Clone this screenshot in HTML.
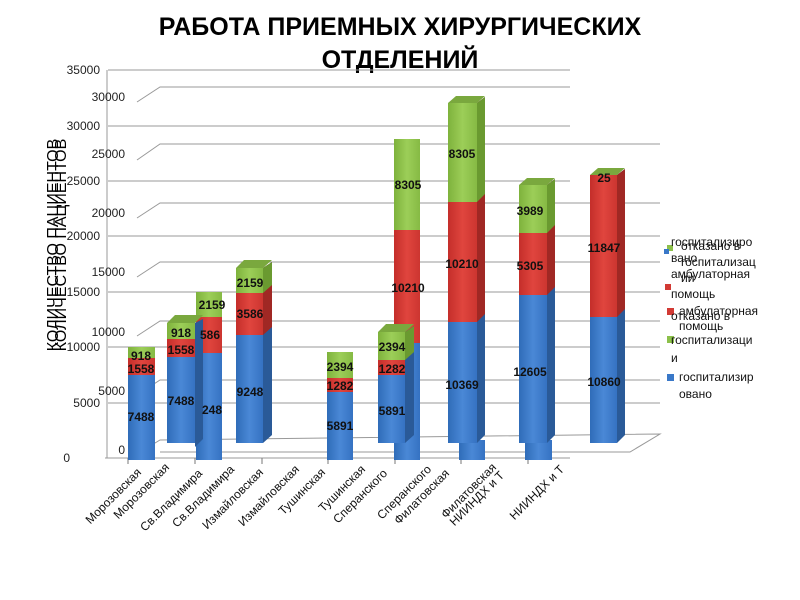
<!DOCTYPE html>
<html><head><meta charset="utf-8"><style>
body{margin:0;background:#fff;width:800px;height:600px;overflow:hidden}
svg{display:block}
text{font-family:"Liberation Sans","DejaVu Sans",sans-serif}
</style></head><body>
<svg width="800" height="600" viewBox="0 0 800 600">
<defs>
<linearGradient id="gb" x1="0" x2="1"><stop offset="0" stop-color="#2f6cb8"/><stop offset="0.5" stop-color="#4a88d6"/><stop offset="1" stop-color="#3572c2"/></linearGradient>
<linearGradient id="gr" x1="0" x2="1"><stop offset="0" stop-color="#c42e2a"/><stop offset="0.5" stop-color="#e0453e"/><stop offset="1" stop-color="#cc3530"/></linearGradient>
<linearGradient id="gg" x1="0" x2="1"><stop offset="0" stop-color="#7eb23c"/><stop offset="0.5" stop-color="#9cce58"/><stop offset="1" stop-color="#86ba44"/></linearGradient>
</defs>
<text x="400" y="35" text-anchor="middle" font-size="25" font-weight="bold">РАБОТА ПРИЕМНЫХ ХИРУРГИЧЕСКИХ</text>
<text x="400" y="68" text-anchor="middle" font-size="25" font-weight="bold">ОТДЕЛЕНИЙ</text>
<g stroke="#999" stroke-width="1" fill="none">
<line x1="108" y1="70" x2="570" y2="70"/><line x1="108" y1="126" x2="570" y2="126"/>
<line x1="108" y1="181" x2="570" y2="181"/><line x1="108" y1="236" x2="660" y2="236"/>
<line x1="108" y1="292" x2="660" y2="292"/><line x1="108" y1="347" x2="660" y2="347"/>
<line x1="108" y1="403" x2="660" y2="403"/><line x1="105" y1="458" x2="570" y2="458"/>
<polyline points="137,102 160,87 570,87"/><polyline points="137,160 160,144 660,144"/>
<polyline points="137,218 160,203 660,203"/><polyline points="137,277 160,262 660,262"/>
<polyline points="137,336 160,321 660,321"/><polyline points="137,395 160,380 660,380"/>
<polyline points="137,454 160,440 660,434 630,452 160,452"/>
<line x1="107" y1="70" x2="107" y2="458"/>
</g>
<g stroke="#777"><line x1="128" y1="458" x2="128" y2="464"/><line x1="195" y1="458" x2="195" y2="464"/><line x1="262" y1="458" x2="262" y2="464"/><line x1="328" y1="458" x2="328" y2="464"/><line x1="395" y1="458" x2="395" y2="464"/><line x1="461" y1="458" x2="461" y2="464"/><line x1="528" y1="458" x2="528" y2="464"/></g>
<g font-size="12" fill="#222" text-anchor="end">
<text x="100" y="74">35000</text><text x="100" y="130">30000</text><text x="100" y="185">25000</text><text x="100" y="240">20000</text><text x="100" y="296">15000</text><text x="100" y="351">10000</text><text x="100" y="407">5000</text><text x="70" y="462">0</text>
<text x="125" y="101">30000</text><text x="125" y="158">25000</text><text x="125" y="217">20000</text><text x="125" y="276">15000</text><text x="125" y="336">10000</text><text x="125" y="395">5000</text><text x="125" y="454">0</text>
</g>
<text transform="translate(58,245) rotate(-90)" text-anchor="middle" font-size="16">КОЛИЧЕСТВО ПАЦИЕНТОВ</text>
<text transform="translate(66,245) rotate(-90)" text-anchor="middle" font-size="16">КОЛИЧЕСТВО ПАЦИЕНТОВ</text>
<g>
<rect x="128" y="375" width="27" height="85" fill="url(#gb)"/><rect x="128" y="358" width="27" height="17" fill="url(#gr)"/><rect x="128" y="347" width="27" height="11" fill="url(#gg)"/>
<rect x="196" y="353" width="26" height="107" fill="url(#gb)"/><rect x="196" y="317" width="26" height="36" fill="url(#gr)"/><rect x="196" y="292" width="26" height="25" fill="url(#gg)"/>
<rect x="327" y="392" width="26" height="68" fill="url(#gb)"/><rect x="327" y="378" width="26" height="14" fill="url(#gr)"/><rect x="327" y="352" width="26" height="26" fill="url(#gg)"/>
<rect x="394" y="343" width="26" height="117" fill="url(#gb)"/><rect x="394" y="230" width="26" height="113" fill="url(#gr)"/><rect x="394" y="139" width="26" height="91" fill="url(#gg)"/>
<rect x="459" y="440" width="26" height="20" fill="url(#gb)"/><rect x="525" y="440" width="27" height="20" fill="url(#gb)"/>
</g>
<g>
<polygon points="195,447 203,439 203,319 195,323" fill="#2a5a98"/>
<rect x="167" y="357" width="28" height="86" fill="url(#gb)"/><rect x="167" y="339" width="28" height="18" fill="url(#gr)"/><rect x="167" y="323" width="28" height="16" fill="url(#gg)"/><polygon points="167,323 175,315 203,315 195,323" fill="#7aa83e"/>
<polygon points="263,443 272,435 272,262 263,268" fill="#2a5a98"/><polygon points="263,335 272,327 272,262 263,268" fill="#a02824"/><polygon points="263,293 272,285 272,262 263,268" fill="#6a9a30"/>
<rect x="236" y="335" width="27" height="108" fill="url(#gb)"/><rect x="236" y="293" width="27" height="42" fill="url(#gr)"/><rect x="236" y="268" width="27" height="25" fill="url(#gg)"/><polygon points="236,268 244,260 272,260 263,268" fill="#7aa83e"/>
<polygon points="405,443 414,435 414,326 405,332" fill="#2a5a98"/><polygon points="405,360 414,352 414,326 405,332" fill="#6a9a30"/>
<rect x="378" y="375" width="27" height="68" fill="url(#gb)"/><rect x="378" y="360" width="27" height="15" fill="url(#gr)"/><rect x="378" y="332" width="27" height="28" fill="url(#gg)"/><polygon points="378,332 386,324 414,324 405,332" fill="#7aa83e"/>
<polygon points="477,443 485,435 485,97 477,103" fill="#2a5a98"/><polygon points="477,322 485,314 485,97 477,103" fill="#a02824"/><polygon points="477,202 485,194 485,97 477,103" fill="#6a9a30"/>
<rect x="448" y="322" width="29" height="121" fill="url(#gb)"/><rect x="448" y="202" width="29" height="120" fill="url(#gr)"/><rect x="448" y="103" width="29" height="99" fill="url(#gg)"/><polygon points="448,103 456,96 485,96 477,103" fill="#7aa83e"/>
<polygon points="547,443 555,435 555,179 547,185" fill="#2a5a98"/><polygon points="547,295 555,287 555,179 547,185" fill="#a02824"/><polygon points="547,233 555,225 555,179 547,185" fill="#6a9a30"/>
<rect x="519" y="295" width="28" height="148" fill="url(#gb)"/><rect x="519" y="233" width="28" height="62" fill="url(#gr)"/><rect x="519" y="185" width="28" height="48" fill="url(#gg)"/><polygon points="519,185 527,178 555,178 547,185" fill="#7aa83e"/>
<polygon points="617,443 625,435 625,169 617,175" fill="#2a5a98"/><polygon points="617,317 625,309 625,169 617,175" fill="#a02824"/>
<rect x="590" y="317" width="27" height="126" fill="url(#gb)"/><rect x="590" y="175" width="27" height="142" fill="url(#gr)"/><polygon points="590,175 598,168 625,168 617,175" fill="#7aa83e"/>
</g>
<g font-size="12" fill="#111" text-anchor="middle" font-weight="bold">
<text x="141" y="360">918</text><text x="141" y="373">1558</text><text x="141" y="421">7488</text>
<text x="181" y="337">918</text><text x="181" y="354">1558</text><text x="181" y="405">7488</text><text x="212" y="414">248</text>
<text x="212" y="309">2159</text><text x="210" y="339">586</text>
<text x="250" y="287">2159</text><text x="250" y="318">3586</text><text x="250" y="396">9248</text>
<text x="340" y="371">2394</text><text x="340" y="390">1282</text><text x="340" y="430">5891</text>
<text x="392" y="351">2394</text><text x="392" y="373">1282</text><text x="392" y="415">5891</text>
<text x="408" y="189">8305</text><text x="408" y="292">10210</text>
<text x="462" y="158">8305</text><text x="462" y="268">10210</text><text x="462" y="389">10369</text>
<text x="530" y="215">3989</text><text x="530" y="270">5305</text><text x="530" y="376">12605</text>
<text x="604" y="182">25</text><text x="604" y="252">11847</text><text x="604" y="386">10860</text>
</g>
<g font-size="12" fill="#111">
<rect x="667" y="245" width="6" height="6" fill="#8cc04a"/><rect x="664" y="249" width="5" height="5" fill="#3a78c8"/>
<text x="671" y="246">госпитализиро</text><text x="681" y="250">отказано в</text>
<text x="671" y="262">вано</text><text x="681" y="266">госпитализац</text>
<text x="671" y="278">амбулаторная</text><text x="681" y="282">ии</text>
<rect x="665" y="284" width="6" height="6" fill="#d23a34"/>
<text x="671" y="298">помощь</text><rect x="667" y="308" width="7" height="7" fill="#d23a34"/><text x="679" y="315">амбулаторная</text>
<text x="671" y="320">отказано в</text><text x="679" y="330">помощь</text>
<rect x="667" y="336" width="7" height="7" fill="#8cc04a"/><text x="671" y="344">госпитализаци</text>
<text x="671" y="362">и</text>
<rect x="667" y="374" width="7" height="7" fill="#3a78c8"/><text x="679" y="381">госпитализир</text>
<text x="679" y="398">овано</text>
</g>
<g font-size="12" fill="#111" text-anchor="end">
<text transform="translate(142,473) rotate(-45)">Морозовская</text>
<text transform="translate(170,468) rotate(-45)">Морозовская</text>
<text transform="translate(203,474) rotate(-45)">Св.Владимира</text>
<text transform="translate(235,470) rotate(-45)">Св.Владимира</text>
<text transform="translate(264,473) rotate(-45)">Измайловская</text>
<text transform="translate(300,470) rotate(-45)">Измайловская</text>
<text transform="translate(326,473) rotate(-45)">Тушинская</text>
<text transform="translate(366,470) rotate(-45)">Тушинская</text>
<text transform="translate(388,474) rotate(-45)">Сперанского</text>
<text transform="translate(432,470) rotate(-45)">Сперанского</text>
<text transform="translate(450,474) rotate(-45)">Филатовская</text>
<text transform="translate(497,468) rotate(-45)">Филатовская</text>
<text transform="translate(505,476) rotate(-45)">НИИНДХ и Т</text>
<text transform="translate(565,470) rotate(-45)">НИИНДХ и Т</text>
</g>
</svg>
</body></html>
